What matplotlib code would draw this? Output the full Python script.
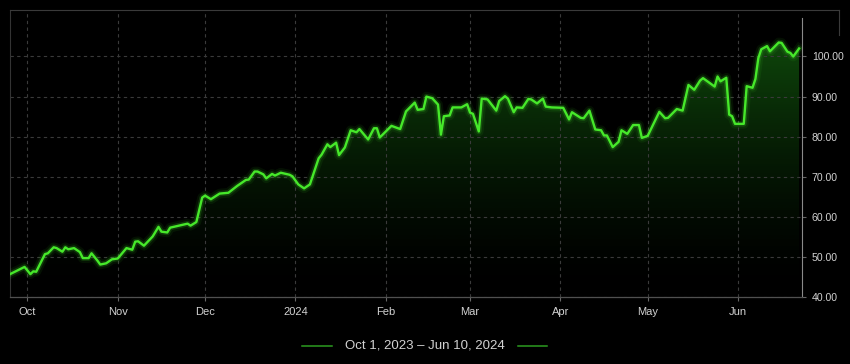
import numpy as np
import pandas as pd
import matplotlib
matplotlib.use("Agg")
import matplotlib.pyplot as plt
import matplotlib.dates as mdates
from matplotlib.lines import Line2D
from matplotlib.colors import to_rgb

plt.rcParams['font.family'] = ['Liberation Sans', 'DejaVu Sans']

# ---------------- data ----------------
dates = [
    "2023-09-25", "2023-09-30", "2023-10-02", "2023-10-03", "2023-10-04", "2023-10-07",
    "2023-10-08", "2023-10-10", "2023-10-11", "2023-10-13", "2023-10-14", "2023-10-15",
    "2023-10-17", "2023-10-19", "2023-10-20", "2023-10-22", "2023-10-23", "2023-10-25",
    "2023-10-26", "2023-10-28", "2023-10-30", "2023-11-01", "2023-11-04", "2023-11-06",
    "2023-11-07", "2023-11-08", "2023-11-10", "2023-11-13", "2023-11-15", "2023-11-16",
    "2023-11-18", "2023-11-19", "2023-11-25", "2023-11-26", "2023-11-28", "2023-11-30",
    "2023-12-01", "2023-12-03", "2023-12-06", "2023-12-09", "2023-12-12", "2023-12-13",
    "2023-12-15", "2023-12-16", "2023-12-18", "2023-12-19", "2023-12-21", "2023-12-22",
    "2023-12-24", "2023-12-25", "2023-12-27", "2023-12-30", "2023-12-31", "2024-01-02",
    "2024-01-04", "2024-01-06", "2024-01-09", "2024-01-10", "2024-01-12", "2024-01-13",
    "2024-01-15", "2024-01-16", "2024-01-18", "2024-01-20", "2024-01-22", "2024-01-23",
    "2024-01-26", "2024-01-28", "2024-01-29", "2024-01-30", "2024-02-03", "2024-02-06",
    "2024-02-08", "2024-02-11", "2024-02-12", "2024-02-14", "2024-02-15", "2024-02-17",
    "2024-02-19", "2024-02-20", "2024-02-21", "2024-02-23", "2024-02-24", "2024-02-27",
    "2024-02-29", "2024-03-01", "2024-03-02", "2024-03-04", "2024-03-05", "2024-03-07",
    "2024-03-10", "2024-03-11", "2024-03-13", "2024-03-14", "2024-03-16", "2024-03-17",
    "2024-03-19", "2024-03-21", "2024-03-22", "2024-03-24", "2024-03-26", "2024-03-27",
    "2024-03-29", "2024-04-02", "2024-04-04", "2024-04-05", "2024-04-08", "2024-04-09",
    "2024-04-11", "2024-04-13", "2024-04-15", "2024-04-16", "2024-04-17", "2024-04-19",
    "2024-04-21", "2024-04-22", "2024-04-24", "2024-04-26", "2024-04-28", "2024-04-29",
    "2024-05-01", "2024-05-05", "2024-05-07", "2024-05-08", "2024-05-11", "2024-05-13",
    "2024-05-15", "2024-05-17", "2024-05-19", "2024-05-20", "2024-05-24", "2024-05-25",
    "2024-05-26", "2024-05-28", "2024-05-29", "2024-05-30", "2024-05-31", "2024-06-03",
    "2024-06-04", "2024-06-06", "2024-06-07", "2024-06-08", "2024-06-09", "2024-06-11",
    "2024-06-12", "2024-06-15", "2024-06-16", "2024-06-18", "2024-06-19", "2024-06-20",
    "2024-06-22",
]
values = [
    45.7, 47.5, 45.7, 46.4, 46.3, 50.7,
    50.9, 52.4, 52.2, 51.3, 52.4, 51.9,
    52.2, 51.2, 49.7, 49.7, 50.9, 49.1,
    48.1, 48.4, 49.4, 49.6, 52.2, 51.8,
    53.8, 53.9, 52.8, 55.1, 57.5, 56.3,
    56.1, 57.3, 58.3, 57.8, 58.7, 64.8,
    65.3, 64.4, 65.8, 66.0, 67.7, 68.2,
    69.2, 69.3, 71.3, 71.3, 70.6, 69.6,
    70.7, 70.3, 71.0, 70.5, 70.1, 68.1,
    67.1, 68.1, 74.6, 75.5, 78.1, 77.4,
    78.5, 75.4, 77.3, 81.6, 81.1, 81.9,
    79.3, 82.1, 82.1, 79.8, 82.7, 81.9,
    86.3, 88.5, 86.7, 86.9, 90.0, 89.6,
    88.0, 80.5, 85.1, 85.3, 87.3, 87.3,
    88.1, 86.0, 85.7, 81.3, 89.5, 89.3,
    86.5, 88.9, 90.1, 89.5, 86.1, 87.3,
    87.2, 89.4, 89.3, 88.3, 89.5, 87.5,
    87.3, 87.2, 84.3, 86.1, 84.7, 84.6,
    86.5, 81.8, 81.6, 80.3, 80.3, 77.4,
    78.7, 81.6, 80.7, 82.9, 82.9, 79.7,
    80.2, 86.2, 84.6, 84.7, 86.9, 86.5,
    92.9, 91.7, 94.0, 94.6, 92.5, 95.0,
    93.8, 94.7, 85.5, 85.1, 83.2, 83.2,
    92.6, 92.2, 94.4, 99.6, 101.8, 102.6,
    101.3, 103.5, 103.4, 101.2, 100.9, 100.0,
    102.0,
]
y_ticks = [40, 50, 60, 70, 80, 90, 100]
x_range = ["2023-09-25", "2024-06-23"]
y_range = [40, 111.6]
legend_label = "Oct 1, 2023 \u2013 Jun 10, 2024"

# ---------------- style ----------------
W, H = 850, 364
line_color = '#46e82a'
fill_color = '#22a81a'
grid_color = '#3a3a3a'
text_color = '#d2d2d2'

fig = plt.figure(figsize=(W / 100, H / 100), dpi=100, facecolor='black')
ax = fig.add_axes([10 / W, 1 - 297 / H, 792 / W, 287 / H])
ax.set_facecolor('black')

xn = mdates.date2num(pd.to_datetime(dates))
vals = np.array(values)
x0, x1 = mdates.date2num(pd.to_datetime(x_range))

# gradient fill under the line
poly = ax.fill_between(xn, vals, y_range[0], color='none', lw=0)
grad = np.zeros((256, 1, 4))
grad[:, :, :3] = to_rgb(fill_color)
t = np.linspace(0, 1, 256)
grad[:, 0, 3] = 0.42 * t ** 1.6
im = ax.imshow(grad, extent=[x0, x1, y_range[0], vals.max()], origin='lower',
               aspect='auto', zorder=1, interpolation='bilinear')
im.set_clip_path(poly.get_paths()[0], transform=ax.transData)

# glow + line
ax.plot(xn, vals, color=line_color, lw=7, alpha=0.07, solid_joinstyle='round', zorder=3)
ax.plot(xn, vals, color=line_color, lw=4, alpha=0.18, solid_joinstyle='round', zorder=3)
ax.plot(xn, vals, color=line_color, lw=1.7, solid_joinstyle='round', zorder=4)

ax.set_xlim(x0, x1)
ax.set_ylim(*y_range)

# x axis
ax.xaxis.set_major_locator(mdates.MonthLocator())
def fmt(v, pos=None):
    d = mdates.num2date(v)
    return str(d.year) if d.month == 1 else d.strftime('%b')
ax.xaxis.set_major_formatter(plt.FuncFormatter(fmt))

# y axis on right
ax.yaxis.tick_right()
ax.set_yticks(y_ticks)
ax.yaxis.set_major_formatter(plt.FuncFormatter(lambda v, p: f"{v:.2f}"))

ax.tick_params(axis='x', colors='#666666', labelcolor=text_color, labelsize=8,
               length=3, width=0.8, pad=4)
ax.tick_params(axis='y', colors='#666666', labelcolor=text_color, labelsize=7.6,
               length=3, width=0.8, pad=4)

ax.grid(True, color=grid_color, linestyle=(0, (3, 3)), linewidth=0.8, zorder=0)

for s in ['top']:
    ax.spines[s].set_visible(False)
ax.spines['left'].set_color('#333333')
ax.spines['left'].set_linewidth(0.8)
ax.spines['bottom'].set_color('#505050')
ax.spines['bottom'].set_linewidth(0.9)
ax.spines['right'].set_color('#8a8a8a')
ax.spines['right'].set_linewidth(0.8)
ax.spines['right'].set_bounds(y_range[0], 109.5)

# outer frame bits (top line extending past the axis)
fig.add_artist(Line2D([10 / W, 839 / W], [1 - 10 / H, 1 - 10 / H],
                      color='#3a3a3a', lw=0.8, transform=fig.transFigure))
fig.add_artist(Line2D([839 / W, 839 / W], [1 - 10 / H, 1 - 35 / H],
                      color='#3a3a3a', lw=0.8, transform=fig.transFigure))

# legend-like caption
ly = 1 - 346 / H
fig.text(424.5 / W, ly, legend_label, color=text_color, fontsize=9.5,
         ha='center', va='center')
fig.add_artist(Line2D([302 / W, 332 / W], [ly, ly], color='#2c9c20', lw=1.1,
                      transform=fig.transFigure))
fig.add_artist(Line2D([518 / W, 547 / W], [ly, ly], color='#2c9c20', lw=1.1,
                      transform=fig.transFigure))

fig.savefig('out.png', dpi=100, facecolor='black')
